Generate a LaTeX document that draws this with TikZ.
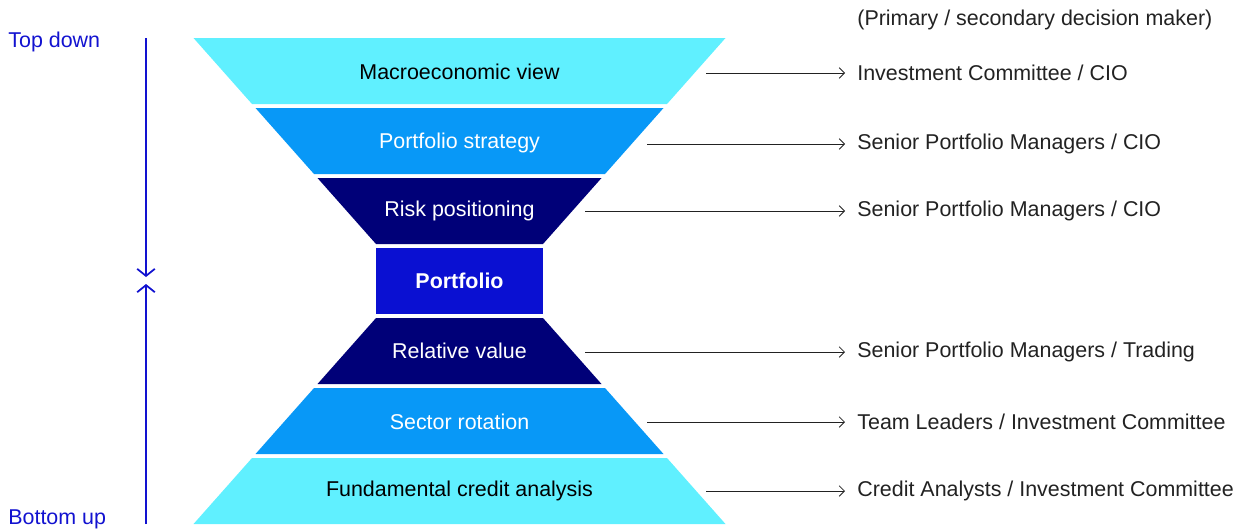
\documentclass[tikz,border=0pt]{standalone}
\usepackage{fontspec}
\setmainfont{Liberation Sans}
\usetikzlibrary{arrows.meta}
\usetikzlibrary{positioning}

\definecolor{aqua}{HTML}{60F0FF}
\definecolor{midblue}{HTML}{0898F7}
\definecolor{navy}{HTML}{000078}
\definecolor{corebox}{HTML}{0A10D2}
\definecolor{sideblue}{HTML}{1212D0}
\definecolor{labgray}{HTML}{222222}

\tikzset{
  stage/.style={inner sep=0pt, font=\fontsize{12.2}{14}\selectfont},
  role/.style={anchor=west, inner xsep=12*0.02cm, inner ysep=0pt, text=labgray, font=\fontsize{12.2}{14}\selectfont},
  side/.style={anchor=west, inner sep=0pt, text=sideblue, font=\fontsize{12.2}{14}\selectfont},
  link/.style={-{Straight Barb[length=3pt,width=6pt]}, line width=0.5pt, labgray},
  flow/.style={-{Straight Barb[length=4pt,width=10pt]}, line width=1pt, sideblue}
}

\begin{document}
\begin{tikzpicture}[x=0.02cm, y=-0.02cm]
\useasboundingbox (0,0) rectangle (1240,529);

% hourglass bands
\fill[aqua] (193.5,38) -- (725.5,38) -- (667,104) -- (252,104) -- cycle;
\fill[midblue] (255.5,108) -- (663.5,108) -- (605,174) -- (314,174) -- cycle;
\fill[navy] (317.5,178) -- (601.5,178) -- (543,244) -- (376,244) -- cycle;
\fill[corebox] (376,248) rectangle (543,314);
\fill[navy] (376,318) -- (543,318) -- (601.5,384) -- (317.5,384) -- cycle;
\fill[midblue] (314,388) -- (605,388) -- (663.5,454) -- (255.5,454) -- cycle;
\fill[aqua] (252,458) -- (667,458) -- (725.5,524) -- (193.5,524) -- cycle;

\node[stage] (macro) at (459.5,72) {Macroeconomic view};
\node[stage, text=white] (strategy) at (459.5,143) {Portfolio strategy};
\node[stage, text=white] (risk) at (459.5,211) {Risk positioning};
\node[stage, text=white, font=\fontsize{12.2}{14}\selectfont\bfseries] (portfolio) at (459.5,281) {Portfolio};
\node[stage, text=white] (relvalue) at (459.5,351) {Relative value};
\node[stage, text=white] (sector) at (459.5,422) {Sector rotation};
\node[stage] (credit) at (459.5,491) {Fundamental credit analysis};

% decision makers
\node[role] (header) at (845,20) {(Primary / secondary decision maker)};
\node[role] (macroRole) at (845,73) {Investment Committee / CIO};
\node[role] (strategyRole) at (845,144) {Senior Portfolio Managers / CIO};
\node[role] (riskRole) at (845,211) {Senior Portfolio Managers / CIO};
\node[role] (relvalueRole) at (845,352) {Senior Portfolio Managers / Trading};
\node[role] (sectorRole) at (845,422) {Team Leaders / Investment Committee};
\node[role] (creditRole) at (845,491) {Credit Analysts / Investment Committee};

\coordinate (macroOut) at (706,73);
\coordinate (strategyOut) at (647,144);
\coordinate (riskOut) at (585,211);
\coordinate (relvalueOut) at (585,352);
\coordinate (sectorOut) at (647,422);
\coordinate (creditOut) at (706,491);
\draw[link] (macroOut) -- (macroRole.west);
\draw[link] (strategyOut) -- (strategyRole.west);
\draw[link] (riskOut) -- (riskRole.west);
\draw[link] (relvalueOut) -- (relvalueRole.west);
\draw[link] (sectorOut) -- (sectorRole.west);
\draw[link] (creditOut) -- (creditRole.west);

% top down / bottom up
\node[side] (topdown) at (8,42) {Top down};
\node[side] (bottomup) at (8,519) {Bottom up};
\coordinate (tdStart) at (146,38);
\coordinate (tdEnd) at (146,277);
\coordinate (buStart) at (146,524);
\coordinate (buEnd) at (146,284);
\draw[flow] (tdStart) -- (tdEnd);
\draw[flow] (buStart) -- (buEnd);
\end{tikzpicture}
\end{document}
